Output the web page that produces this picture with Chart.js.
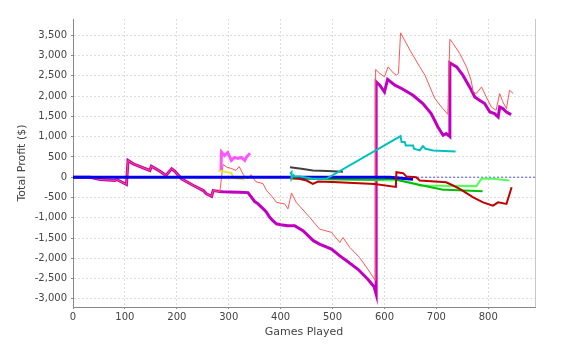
<!DOCTYPE html>
<html>
<head>
<meta charset="utf-8">
<script src="https://cdn.jsdelivr.net/npm/chart.js@4"></script>
<style>
    html, body { margin: 0; padding: 0; background: #fff; }
    #wrap { width: 563px; height: 346px; }
</style>
</head>
<body>
<div id="wrap"><canvas id="profitChart" width="563" height="346"></canvas></div>
<script>
// 축 눈금
const xTicks = [0, 100, 200, 300, 400, 500, 600, 700, 800];
const yTicks = [-3000, -2500, -2000, -1500, -1000, -500, 0, 500, 1000, 1500, 2000, 2500, 3000, 3500];

// 처음 ~280게임은 빨강/보라 두 시리즈가 같은 경로
const earlyGames = [0, 33, 52, 81, 84, 103, 106, 116, 148, 151, 167, 179, 190, 196, 209, 232, 251, 257, 267, 270, 283];
const earlyProfit = [0, 0, -57, -80, -57, -180, 413, 330, 165, 272, 150, 42, 208, 148, -40, -205, -330, -410, -470, -330, -355];

const redGames = [289, 296, 306, 314, 320, 329, 337, 343, 352, 366, 373, 383, 392, 408, 414, 421, 430, 456, 475, 498, 514, 520, 533, 552, 568, 582,
    583, 591, 600, 607, 617, 623, 627, 631, 649, 668, 678, 697, 710, 722, 726, 732, 745, 758, 767, 771, 777, 787, 796, 806, 815, 822, 828, 835, 841, 848];
const redProfit = [314, 250, 210, 165, 265, 40, -30, 65, -110, -160, -330, -470, -620, -660, -780, -390, -620, -990, -1280, -1360, -1610, -1485, -1730, -1980, -2270, -2540,
    2657, 2557, 2475, 2720, 2570, 2515, 2557, 3560, 3134, 2720, 2515, 1940, 1730, 1550, 3400, 3300, 3050, 2720, 2390, 2100, 2062, 2226, 1980, 1730, 1650, 2062, 1856, 1692, 2144, 2062];

const purpleGames = [289, 300, 320, 337, 341, 350, 356, 364, 372, 379, 385, 392, 400, 414, 427, 443, 463, 475, 498, 514, 527, 549, 568, 580, 584,
    584, 591, 600, 606, 620, 633, 655, 674, 690, 703, 713, 719, 726, 726, 739, 751, 764, 774, 783, 793, 803, 812, 819, 822, 828, 835, 844];
const purpleProfit = [-360, -365, -370, -380, -450, -600, -650, -750, -850, -990, -1070, -1150, -1170, -1195, -1195, -1320, -1565, -1650, -1770, -1940, -2060, -2270, -2515, -2700, -2885,
    2350, 2268, 2100, 2410, 2268, 2186, 2020, 1815, 1568, 1237, 1031, 1073, 1000, 2820, 2720, 2515, 2226, 1980, 1897, 1815, 1608, 1568, 1485, 1731, 1692, 1608, 1543];

const magentaGames = [285, 286, 292, 298, 305, 311, 318, 324, 331, 334, 341];
const magentaProfit = [160, 620, 535, 610, 413, 490, 465, 490, 413, 490, 590];

const yellowGames = [280, 290, 305, 310, 330];
const yellowProfit = [165, 140, 100, -20, -55];

const grayGames = [418, 440, 462, 490, 520];
const grayProfit = [248, 210, 166, 150, 135];

const cyanGames = [418, 421, 421, 425, 427, 437, 462, 488, 631, 633, 639, 641, 655, 657, 668, 674, 679, 694, 737];
const cyanProfit = [85, 124, -40, 50, 17, 17, -40, -40, 1014, 866, 866, 784, 784, 702, 660, 767, 702, 660, 636];

const darkRedGames = [418, 435, 450, 462, 472, 500, 581, 622, 623, 636, 642, 661, 668, 719, 732, 745, 771, 790, 809, 819, 835, 845];
const darkRedProfit = [-15, -40, -82, -165, -106, -120, -165, -240, 124, 100, 20, 0, -82, -124, -205, -289, -495, -620, -700, -620, -660, -247];

const lightGreenGames = [418, 500, 580, 616, 623, 661, 668, 777, 787, 809, 841];
const lightGreenProfit = [-20, -50, -70, -80, -60, -165, -205, -220, -35, -40, -80];

const greenGames = [418, 500, 580, 616, 629, 664, 713, 719, 789];
const greenProfit = [-30, -50, -60, -40, -82, -180, -310, -310, -345];

const blueGames = [0, 610, 655];
const blueProfit = [0, 0, -50];

const zeroGames = [0, 890];
const zeroProfit = [0, 0];

/**
 * x/y 배열을 Chart.js 점 목록으로
 */
function toPoints(xs, ys) {
    return xs.map((x, i) => ({ x, y: ys[i] }));
}

function series(xs, ys, color, width, extra) {
    return Object.assign({
        data: toPoints(xs, ys),
        borderColor: color,
        borderWidth: width,
        pointRadius: 0,
        tension: 0,
        fill: false,
    }, extra || {});
}

// 위에 그려질 것부터 순서대로
const datasets = [
    series(cyanGames, cyanProfit, '#00c0c0', 2),
    series(darkRedGames, darkRedProfit, '#c00000', 2),
    series(blueGames, blueProfit, '#0000ee', 3),
    series(greenGames, greenProfit, '#00c000', 2),
    series(lightGreenGames, lightGreenProfit, '#55ff55', 2),
    series(grayGames, grayProfit, '#404040', 2),
    series(yellowGames, yellowProfit, '#e8e830', 2),
    series(magentaGames, magentaProfit, '#ff55ff', 3),
    series(earlyGames.concat(redGames), earlyProfit.concat(redProfit), '#ff5555', 1),
    series(earlyGames.concat(purpleGames), earlyProfit.concat(purpleProfit), '#c000c0', 3),
    series(zeroGames, zeroProfit, '#5555ff', 1, { borderDash: [2, 2] }),
];

// 플롯 오른쪽 테두리
const outlinePlugin = {
    id: 'outline',
    afterDraw(chart) {
        const { ctx, chartArea } = chart;
        ctx.save();
        ctx.strokeStyle = '#c8c8c8';
        ctx.lineWidth = 1;
        ctx.beginPath();
        ctx.moveTo(chartArea.right + 0.5, chartArea.top);
        ctx.lineTo(chartArea.right + 0.5, chartArea.bottom);
        ctx.stroke();
        ctx.restore();
    },
};

const tickFont = { family: 'DejaVu Sans', size: 10 };
const titleFont = { family: 'DejaVu Sans', size: 11 };

new Chart(document.getElementById('profitChart').getContext('2d'), {
    type: 'line',
    data: { datasets },
    options: {
        responsive: false,
        animation: false,
        layout: { padding: { left: 0, right: 28, top: 19, bottom: 0 } },
        plugins: {
            legend: { display: false },
            tooltip: { enabled: false },
        },
        scales: {
            x: {
                type: 'linear',
                min: 0,
                max: 890,
                afterBuildTicks: s => { s.ticks = xTicks.map(v => ({ value: v })); },
                afterFit: s => { s.height = 39; },
                grid: { color: '#dddddd', tickLength: 2, tickColor: '#888', tickBorderDash: [] },
                border: { display: true, color: '#888', dash: [2, 2] },
                ticks: { font: tickFont, color: '#444', padding: 2, maxRotation: 0 },
                title: { display: true, text: 'Games Played', font: titleFont, color: '#444', padding: { top: 0, bottom: 7 } },
            },
            y: {
                type: 'linear',
                min: -3200,
                max: 3900,
                afterBuildTicks: s => { s.ticks = yTicks.map(v => ({ value: v })); },
                afterFit: s => { s.width = 73; },
                grid: { color: '#dddddd', tickLength: 2, tickColor: '#888', tickBorderDash: [] },
                border: { display: true, color: '#888', dash: [2, 2] },
                ticks: {
                    font: tickFont,
                    color: '#444',
                    padding: 4,
                    callback: v => v.toLocaleString('en-US'),
                },
                title: { display: true, text: 'Total Profit ($)', font: titleFont, color: '#444', padding: { top: 16, bottom: 0 } },
            },
        },
    },
    plugins: [outlinePlugin],
});
</script>
</body>
</html>
